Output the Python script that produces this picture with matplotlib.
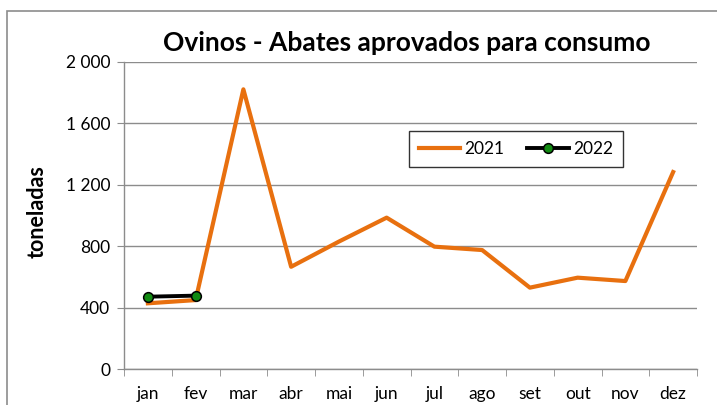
import matplotlib
matplotlib.use("Agg")
import matplotlib.pyplot as plt
from matplotlib.ticker import FuncFormatter, FixedLocator
import numpy as np

plt.rcParams["font.family"] = ["Lato", "DejaVu Sans"]

months = ["jan", "fev", "mar", "abr", "mai", "jun", "jul", "ago", "set", "out", "nov", "dez"]
vals_2021 = [428, 449, 1822, 666, 830, 986, 797, 775, 530, 595, 573, 1283]
vals_2022 = [471, 478]

fig = plt.figure(figsize=(7.17, 4.05), dpi=100)
# outer chart frame
fig.patches.append(plt.Rectangle((7 / 717, -0.05), 1.2, 1 - 11 / 405 + 0.05,
                                 transform=fig.transFigure, fill=False,
                                 edgecolor="#8c8c8c", linewidth=1.2))

ax = fig.add_axes([124 / 717, 1 - 369 / 405, (697 - 124) / 717, (369 - 62) / 405])

x = np.arange(len(months))
ax.plot(x, vals_2021, color="#e8700f", linewidth=3.0, label="2021", zorder=3)
ax.plot(x[:len(vals_2022)], vals_2022, color="black", linewidth=2.8, marker="o",
        markersize=7, markerfacecolor="#118a11", markeredgecolor="black",
        markeredgewidth=1.1, label="2022", zorder=4)

ax.set_xlim(-0.5, 11.5)
ax.set_ylim(0, 2000)
ax.set_yticks([0, 400, 800, 1200, 1600, 2000])
ax.yaxis.set_major_formatter(FuncFormatter(lambda v, p: f"{int(v):,}".replace(",", " ")))
ax.grid(axis="y", color="#8c8c8c", linewidth=1.0)
ax.set_axisbelow(True)

ax.set_xticks(x)
ax.set_xticklabels(months)
ax.xaxis.set_minor_locator(FixedLocator(np.arange(-0.5, 12, 1)))
ax.tick_params(axis="x", which="major", length=0, pad=12, labelsize=12.5)
ax.tick_params(axis="x", which="minor", length=5, color="#8c8c8c", direction="out")
ax.tick_params(axis="y", length=5, color="#8c8c8c", labelsize=12.5, pad=5)

for s in ["top", "right"]:
    ax.spines[s].set_visible(False)
for s in ["left", "bottom"]:
    ax.spines[s].set_color("#8c8c8c")
    ax.spines[s].set_linewidth(1.0)

fig.text(407 / 717, 1 - 43 / 405, "Ovinos - Abates aprovados para consumo", ha="center", va="center",
         fontsize=19, fontweight="bold")
fig.text(37 / 717, 1 - 212 / 405, "toneladas", rotation=90, ha="center", va="center",
         fontsize=15.5, fontweight="bold")

leg = ax.legend(loc="center", bbox_to_anchor=((516 - 124) / 573, (369 - 149) / 307), ncol=2,
                frameon=True, fancybox=False, edgecolor="black", fontsize=12.5,
                handlelength=2.4, handletextpad=0.25, columnspacing=1.3, borderpad=0.55,
                borderaxespad=0)
leg.get_frame().set_linewidth(1.0)

fig.savefig("out.png", dpi=100)
